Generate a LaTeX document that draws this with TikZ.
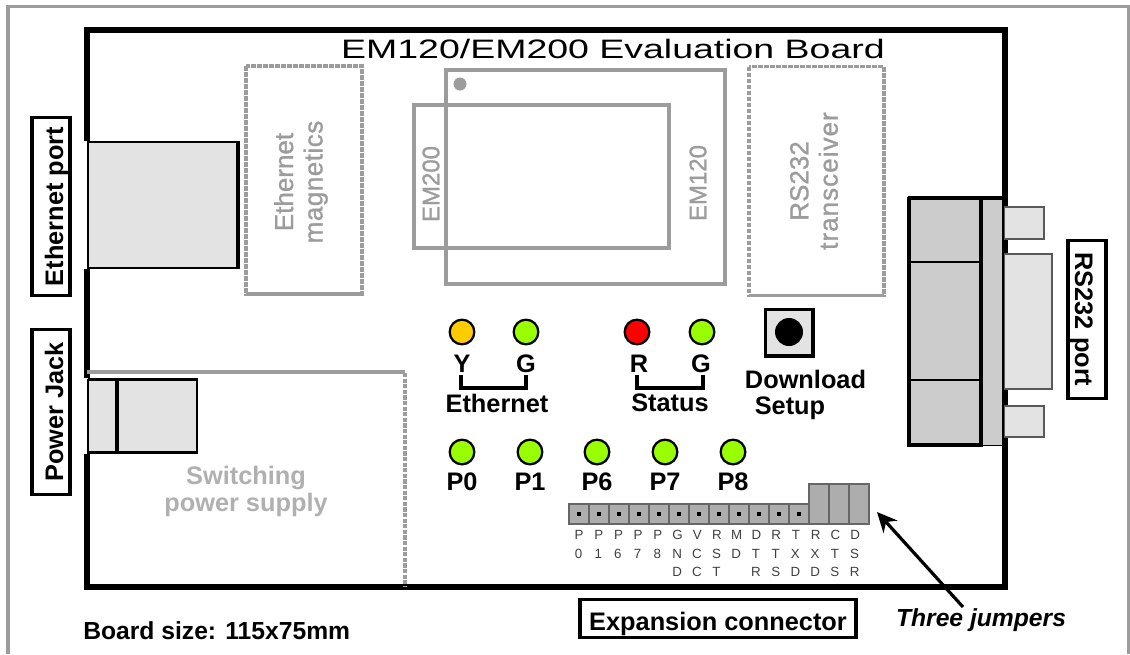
\documentclass[tikz,border=0pt]{standalone}
\usepackage{fontspec}
\setmainfont{Liberation Sans}
\newfontfamily\titlefont[FakeStretch=1.405]{Liberation Sans}
\newfontfamily\grayfont[FakeBold=1.2]{Liberation Sans}
\usetikzlibrary{arrows.meta}
\definecolor{grayline}{HTML}{9C9C9C}
\definecolor{graytext}{HTML}{B0B0B0}
\definecolor{partfill}{HTML}{E3E3E3}
\definecolor{dbfill}{HTML}{CCCCCC}
\definecolor{pinfill}{HTML}{ADADAD}
\definecolor{pinline}{HTML}{666666}
\definecolor{ledgreen}{HTML}{99FF00}
\definecolor{ledyellow}{HTML}{FFCC00}
\definecolor{ledred}{HTML}{FF0000}
\tikzset{
  px/.style={x=0.75pt,y=-0.75pt},
  boardline/.style={draw=black,line width=4.5pt,line join=miter},
  chipbox/.style={draw=grayline,line width=3pt},
  dashbox/.style={draw=grayline,line width=2.8pt,dash pattern=on 3.4pt off 1.1pt},
  dbshell/.style={draw=black,fill=dbfill,line width=1.4pt},
  tab/.style={draw=black!65,fill=partfill,line width=1.1pt},
  pincell/.style={draw=pinline,fill=pinfill,line width=1.1pt},
  lbl/.style={font=\fontsize{19}{22}\selectfont\bfseries,inner sep=0pt,text=black},
  grayrot/.style={font=\grayfont\fontsize{19.5}{22}\selectfont,inner sep=0pt,text=grayline,rotate=90,align=center},
  tagbox/.style={draw=black,line width=2.3pt,fill=white,font=\fontsize{19}{22}\selectfont\bfseries,inner sep=0pt,minimum height=28.5pt,text height=19.5pt,text depth=1.5pt},
  led/.style={circle,draw=black,line width=1.7pt,minimum size=18.5pt,inner sep=0pt},
  pintext/.style={font=\fontsize{10}{10}\selectfont,inner sep=0pt,text=black!75},
  bracket/.style={draw=black,line width=2.6pt},
  pin/.style={fill=black,inner sep=0pt,minimum size=3.6pt},
}
\begin{document}
\begin{tikzpicture}[px]
\useasboundingbox (0,0) rectangle (1130,654);
% page frame
\draw[draw=grayline,line width=2.6pt] (8,654) -- (8,6.5) -- (1129,6.5) -- (1129,654);
% board
\draw[boardline] (87,29.5) rectangle (1004.5,586.7);
\node[font=\titlefont\fontsize{20}{22}\selectfont,inner sep=0pt] (title) at (613,49) {EM120/EM200 Evaluation Board};
% ethernet
\fill[white] (83,141) rectangle (87.5,269);
\fill[partfill] (88,142) rectangle (238,268);
\draw[black,line width=1.5pt] (88.3,141) -- (88.3,269);
\draw[black,line width=1.8pt] (87.5,142) -- (238,142);
\draw[black,line width=1.5pt] (87.5,268) -- (238,268);
\draw[black,line width=3.4pt] (238,141) -- (238,269);
\draw[dashbox] (246,66) rectangle (362,294);
\draw[grayline,line width=3pt] (246,294) -- (362,294);
\node[grayrot] (mag) at (301,182) {Ethernet\\\addfontfeature{LetterSpace=2}magnetics};
% modules
\draw[chipbox] (446,70) rectangle (725,284);
\draw[chipbox] (414,105) rectangle (669,248);
\fill[grayline] (460,84) circle (6.5);
\node[grayrot,font=\grayfont\fontsize{18}{22}\selectfont] (em200) at (431,184) {EM200};
\node[grayrot,font=\grayfont\fontsize{18}{22}\selectfont] (em120) at (698,183) {EM120};
% transceiver
\draw[dashbox] (749,66.5) rectangle (884,295.5);
\draw[grayline,line width=2.8pt] (749,295.5) -- (884,295.5);
\node[grayrot] (tr) at (814,181) {RS232\\\addfontfeature{LetterSpace=4}transceiver};
% DB9
\draw[tab] (1004,207) rectangle (1044,239);
\draw[tab] (1004,406) rectangle (1044,437);
\draw[tab] (1004,254) rectangle (1052,389);
\draw[dbshell] (981,198) rectangle (1003,445.5);
\draw[dbshell,line width=2.3pt] (909,198.5) rectangle (981,445);
\draw[black,line width=2.6pt] (908,198) -- (1004,198);
\draw[black,line width=1.2pt] (910,262) -- (981,262);
\draw[black,line width=1.2pt] (910,380) -- (981,380);
% power
\draw[grayline,line width=3pt] (87,372) -- (405,372);
\draw[dashbox,line width=3pt,dash pattern=on 3.2pt off 1pt] (405,373) -- (405,586);
\fill[white] (83,378) rectangle (87.5,454);
\fill[partfill] (88,379) rectangle (197,453);
\draw[black,line width=1.5pt] (88.3,378.5) -- (88.3,453.5);
\draw[black,line width=1.7pt] (87.5,379.5) -- (197,379.5) -- (197,452.5) -- (87.5,452.5);
\draw[black,line width=3pt] (117,379) -- (117,453);
\node[lbl,text=graytext,align=center,font=\fontsize{19}{20.3}\selectfont\bfseries] (psu) at (246,491) {Switching\\power supply};
% side tags
\node[tagbox,rotate=90,minimum width=133pt] (ethport) at (51,206.5) {Ethernet port};
\node[tagbox,rotate=90,minimum width=124pt] (pwr) at (51,412) {Power Jack};
\node[tagbox,rotate=-90,minimum width=118pt] (rsport) at (1087,319.5) {RS232 port};
% LEDs
\node[led,fill=ledyellow] (ly) at (462,332) {};
\node[led,fill=ledgreen] (lg) at (526,332) {};
\node[led,fill=ledred] (lr) at (637,332) {};
\node[led,fill=ledgreen] (lh) at (702,332) {};
\node[lbl] (ty) at (462,364) {Y};
\node[lbl] (tg) at (526,364) {G};
\node[lbl] (tr2) at (639,364) {R};
\node[lbl] (th) at (701,364) {G};
\coordinate (ya) at (461,375); \coordinate (yb) at (461,388);
\coordinate (ga) at (526,375); \coordinate (gb) at (526,388);
\coordinate (ra) at (637,375); \coordinate (rb) at (637,388);
\coordinate (ha) at (703,375); \coordinate (hb) at (703,388);
\draw[bracket] (ya) -- (yb) -- (gb) -- (ga);
\draw[bracket] (ra) -- (rb) -- (hb) -- (ha);
\node[lbl] (eth) at (497,403) {Ethernet};
\node[lbl] (sta) at (670,403) {Status};
% button
\draw[draw=black,fill=partfill,line width=2.3pt] (765.5,309.5) rectangle (813,356);
\fill[black] (789,332) circle (14);
\node[lbl] (dl) at (805.5,379) {Download};
\node[lbl] (su) at (790,408) {Setup};
% port LEDs
\foreach \n/\x in {P0/462,P1/530,P6/597,P7/665,P8/733}{
  \node[led,fill=ledgreen] (led\n) at (\x,452) {};
  \node[lbl] (txt\n) at (\x,482) {\n};
}
% connector
\foreach \i in {0,...,11}{
  \draw[pincell] ({569+20*\i},504) rectangle ({589+20*\i},524);
  \node[pin] (pin\i) at ({579+20*\i},514) {};
}
\foreach \i in {0,1,2}{
  \draw[pincell] ({809+20*\i},484) rectangle ({829+20*\i},524);
}
\foreach \i/\a/\b/\c in {0/P/0/,1/P/1/,2/P/6/,3/P/7/,4/P/8/,5/G/N/D,6/V/C/C,7/R/S/T,8/M/D/,9/D/T/R,10/R/T/S,11/T/X/D,12/R/X/D,13/C/T/S,14/D/S/R}{
  \node[pintext] (a\i) at ({579+19.72*\i},535) {\a};
  \node[pintext] (b\i) at ({578.5+19.72*\i},553.5) {\b};
  \node[pintext] (c\i) at ({578.5+19.72*\i},572) {\c};
}
\node[tagbox,minimum width=207pt] (exp) at (718,618.5) {Expansion connector};
\node[lbl,anchor=west,font=\fontsize{18.5}{22}\selectfont\bfseries] (size) at (83,630.5) {Board size: 115x75mm};
\node[lbl,font=\fontsize{18.5}{22}\selectfont\bfseries\itshape] (jump) at (981,620.5) {Three jumpers};
\coordinate (jumptip) at (877,512);
\coordinate (jumptail) at (963,607);
\draw[black,line width=2.4pt,-{Stealth[length=15pt,width=14pt]}] (jumptail) -- (jumptip);
\end{tikzpicture}
\end{document}
